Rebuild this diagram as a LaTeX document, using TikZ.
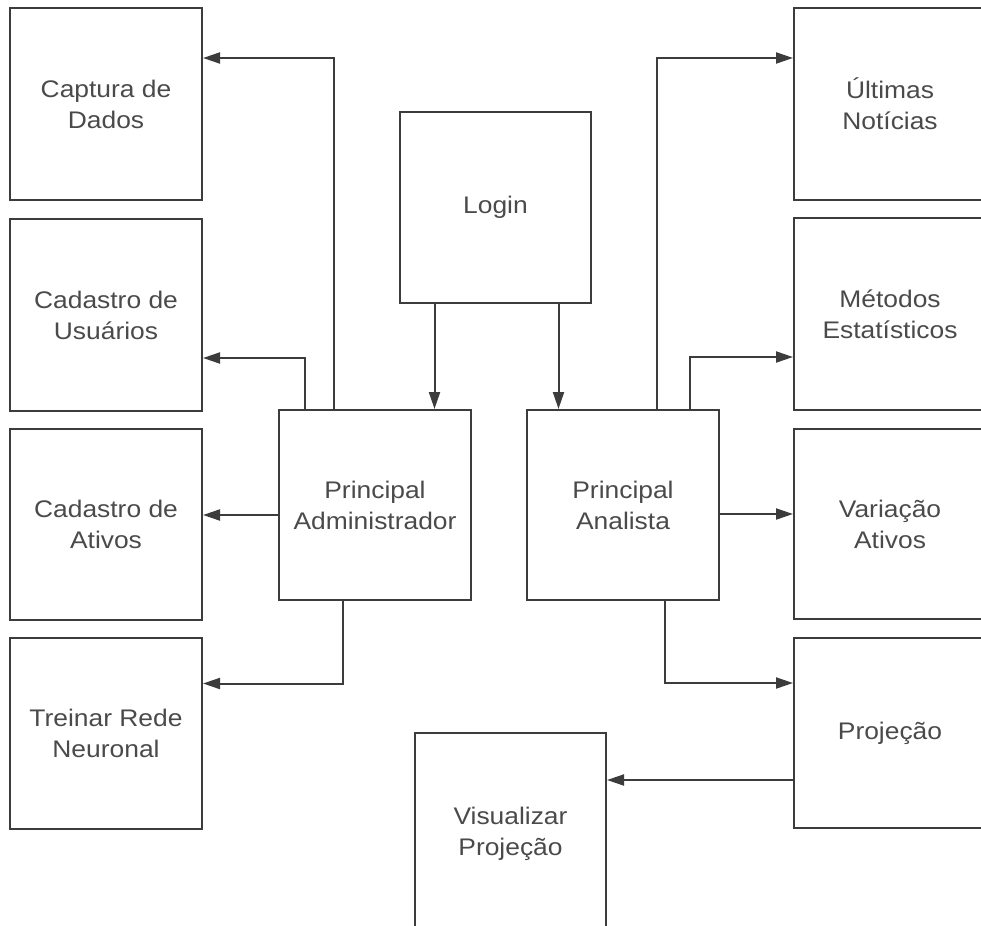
\documentclass[tikz,border=0pt]{standalone}
\usepackage{fontspec}
\setmainfont[FakeStretch=1.1]{Liberation Sans}
\usetikzlibrary{arrows.meta,calc}
\definecolor{linec}{HTML}{3C3C3C}
\definecolor{textc}{HTML}{4A4A4A}
\begin{document}
\begin{tikzpicture}[x=1pt,y=-1pt,
  box/.style={draw=linec,line width=2pt,minimum width=192pt,minimum height=192pt,inner sep=0pt,
    align=center,text=textc,font=\fontsize{24}{31}\selectfont},
  arr/.style={draw=linec,line width=2pt,-{Triangle[length=17pt,width=11pt]}}]
\useasboundingbox (0,0) rectangle (981,925);
\clip (0,0) rectangle (981,925);
% left column
\node[box] (cap) at (106,104) {Captura de\\Dados};
\node[box] (usu) at (106,315) {Cadastro de\\Usuários};
\node[box,minimum height=191pt] (ati) at (106,524.5) {Cadastro de\\Ativos};
\node[box,minimum height=191pt] (tre) at (106,733.5) {Treinar Rede\\Neuronal};
% center
\node[box,minimum width=191pt,minimum height=191pt] (login) at (495.5,207.5) {Login};
\node[box,minimum height=190pt] (pa) at (375,505) {Principal\\Administrador};
\node[box,minimum height=190pt] (pan) at (623,505) {Principal\\Analista};
\node[box,minimum width=191pt,minimum height=202pt] (vis) at (510.5,834) {Visualizar\\Projeção};
% right column
\node[box] (ult) at (890,104) {Últimas\\Notícias};
\node[box] (met) at (890,314) {Métodos\\Estatísticos};
\node[box,minimum height=190pt] (var) at (890,524) {Variação\\Ativos};
\node[box,minimum height=190pt] (proj) at (890,733) {Projeção};
% connectors
\draw[arr] ([xshift=-61pt]login.south) -- ([xshift=-61pt]login.south |- pa.north);
\draw[arr] ([xshift=63pt]login.south) -- ([xshift=63pt]login.south |- pan.north);
\draw[arr] ([xshift=-41pt]pa.north) |- ([yshift=46pt]cap.east);
\draw[arr] ([xshift=-70pt]pa.north) |- ([yshift=-43pt]usu.east);
\draw[arr] ([yshift=-10pt]pa.west) -- ([yshift=-10pt]pa.west -| ati.east);
\draw[arr] ([xshift=-32pt]pa.south) |- ([yshift=50pt]tre.east);
\draw[arr] ([xshift=34pt]pan.north) |- ([yshift=46pt]ult.west);
\draw[arr] ([xshift=67pt]pan.north) |- ([yshift=-43pt]met.west);
\draw[arr] ([yshift=-9pt]pan.east) -- ([yshift=-9pt]pan.east -| var.west);
\draw[arr] ([xshift=42pt]pan.south) |- ([yshift=50pt]proj.west);
\draw[arr] ([yshift=-47pt]proj.west) -- ([yshift=-47pt]proj.west -| vis.east);
\end{tikzpicture}
\end{document}
